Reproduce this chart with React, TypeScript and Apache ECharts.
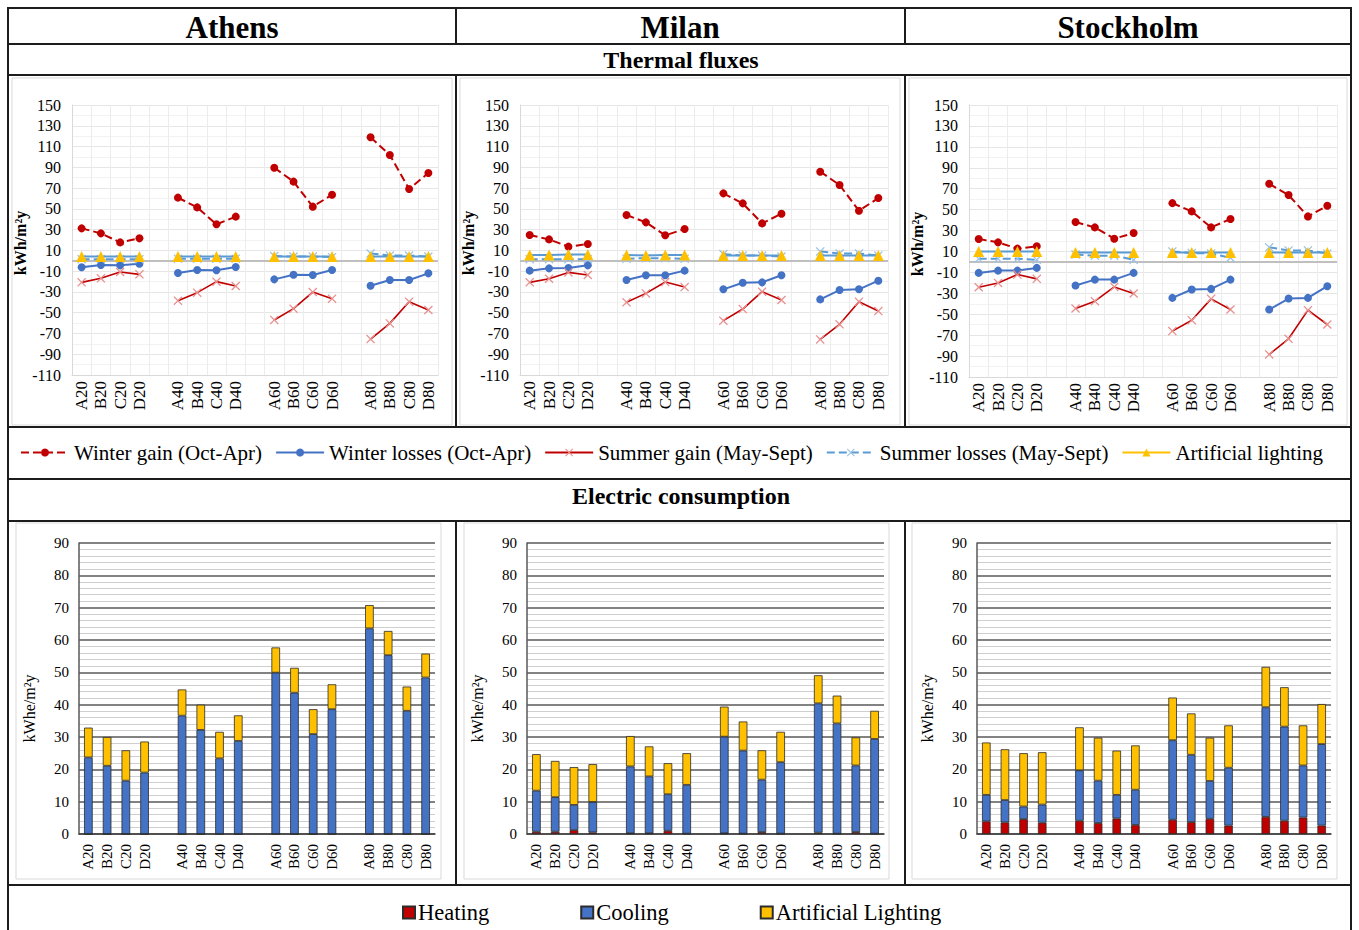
import React, { useEffect, useRef } from "react";
import * as echarts from "echarts";

const categories = ["A20","B20","C20","D20","","A40","B40","C40","D40","","A60","B60","C60","D60","","A80","B80","C80","D80"];
const cities = ["Athens", "Milan", "Stockholm"];
const fluxSeriesNames = ["Winter gain (Oct-Apr)", "Winter losses (Oct-Apr)", "Summer gain (May-Sept)", "Summer losses (May-Sept)", "Artificial lighting"];
const elecSeriesNames = ["Heating", "Cooling", "Artificial Lighting"];
const fluxTicks = { min: -110, max: 150, step: 20 };
const elecTicks = { min: 0, max: 90, step: 10 };

// Thermal fluxes (kWh/m2y), 16 designs each: A20..D20, A40..D40, A60..D60, A80..D80
const athensWinterGain = [31.2,26.4,17.7,21.6, 60.8,51.4,35.1,42.5, 89.6,76.2,52.1,63.6, 118.9,101.8,69.1,84.5];
const athensWinterLosses = [-6.3,-4.0,-4.4,-2.8, -11.8,-8.9,-9.2,-6.0, -17.9,-13.4,-13.7,-8.9, -24.0,-18.5,-18.5,-12.1];
const athensSummerGain = [-20.8,-16.9,-10.8,-13.1, -38.4,-30.7,-20.1,-24.3, -57.0,-46.1,-30.1,-36.5, -75.4,-60.3,-39.4,-47.4];
const athensSummerLosses = [1.5,1.5,1.5,1.5, 2,2,2,2, 4.5,4,4,3.5, 7,5,5,4];
const athensLighting = [4,4,4,4, 4,4,4,4, 4,4,4,4, 4,4,4,4];

const milanWinterGain = [24.8,20.6,13.6,16.1, 44.1,37.0,24.5,30.6, 64.9,55.3,36.0,45.3, 85.8,73.0,48.2,60.4];
const milanWinterLosses = [-9.5,-7.3,-7.0,-4.4, -18.5,-14.0,-14.0,-9.5, -27.5,-21.1,-20.8,-14.0, -37.2,-28.2,-27.5,-19.2];
const milanSummerGain = [-20.8,-17.3,-11.2,-13.7, -40.0,-31.4,-20.5,-25.3, -57.7,-46.5,-29.8,-37.8, -75.7,-61.2,-39.4,-48.4];
const milanSummerLosses = [1.5,1.5,1.5,1.5, 2,2.5,2.5,2, 6.5,5,5,4, 9,7,7,5];
const milanLighting = [5.5,5.5,6,6, 5.5,5,5.5,5.5, 5,5,5,5, 5,5,5,5];

const stockholmWinterGain = [21.9,18.7,12.7,14.9, 38.1,33.0,22.2,27.6, 56.2,48.3,33.0,41.0, 74.7,63.9,43.5,53.7];
const stockholmWinterLosses = [-10.5,-8.3,-8.3,-5.7, -22.6,-16.9,-16.9,-10.5, -34.4,-26.4,-25.8,-16.9, -45.5,-35.0,-34.4,-23.2];
const stockholmSummerGain = [-24.2,-20.1,-12.1,-16.2, -44.5,-37.5,-23.9,-30.2, -66.1,-55.7,-35.3,-45.5, -88.4,-73.5,-46.1,-59.8];
const stockholmSummerLosses = [3,3,3,2, 7,6,6,2, 10,8.5,8,4, 14,11,11,8];
const stockholmLighting = [10,10,10,10, 9,9,9,9, 9,9,9,9, 9,9,9,9];

// Electric consumption (kWhe/m2y)
const athensHeating = [0,0,0,0, 0,0,0,0, 0,0,0,0, 0,0,0,0];
const athensCooling = [23.7,21.1,16.5,19.0, 36.6,32.2,23.4,28.8, 49.9,43.7,30.9,38.6, 63.6,55.3,38.1,48.4];
const athensArtLighting = [9.2,8.9,9.4,9.6, 8.1,7.8,8.2,7.9, 7.8,7.7,7.7,7.7, 7.2,7.5,7.5,7.4];

const milanHeating = [0.7,0.7,1.2,0.5, 0.2,0.2,1.0,0.1, 0.2,0.1,0.6,0.1, 0.4,0.1,0.6,0.1];
const milanCooling = [12.7,10.7,7.8,9.4, 20.7,17.6,11.3,15.1, 29.9,25.7,16.2,22.1, 40.0,34.1,20.6,29.3];
const milanArtLighting = [11.3,11.2,11.7,11.7, 9.4,9.3,9.6,9.8, 9.3,9.0,9.1,9.4, 8.7,8.6,8.7,8.7];

const stockholmHeating = [3.9,3.6,4.6,3.5, 4.1,3.4,4.8,2.8, 4.4,3.7,4.7,2.6, 5.3,4.1,5.1,2.6];
const stockholmCooling = [8.2,6.9,3.9,5.6, 15.6,13.1,7.3,10.9, 24.6,20.8,11.7,17.9, 33.9,29.1,16.1,25.2];
const stockholmArtLighting = [16.2,15.7,16.5,16.2, 13.3,13.3,13.7,13.7, 13.2,12.8,13.4,13.1, 12.5,12.2,12.4,12.4];

const fluxData = [
  [athensWinterGain, athensWinterLosses, athensSummerGain, athensSummerLosses, athensLighting],
  [milanWinterGain, milanWinterLosses, milanSummerGain, milanSummerLosses, milanLighting],
  [stockholmWinterGain, stockholmWinterLosses, stockholmSummerGain, stockholmSummerLosses, stockholmLighting],
];
const elecData = [
  [athensHeating, athensCooling, athensArtLighting],
  [milanHeating, milanCooling, milanArtLighting],
  [stockholmHeating, stockholmCooling, stockholmArtLighting],
];

const FONT = '"Liberation Serif", "Times New Roman", serif';
const CROSS = "path://M0,1L1,0L5,4L9,0L10,1L6,5L10,9L9,10L5,6L1,10L0,9L4,5Z";

function withGaps(v: number[]): (number | string)[] {
  const out: (number | string)[] = [];
  v.forEach((x, i) => {
    if (i > 0 && i % 4 === 0) out.push("-");
    out.push(x);
  });
  return out;
}

const topGrids = [
  { left: 72, top: 105, width: 366, height: 270 },
  { left: 520, top: 105, width: 368, height: 270 },
  { left: 969, top: 105, width: 368, height: 272 },
];
const botGrids = [
  { left: 79, top: 543, width: 356, height: 291 },
  { left: 527, top: 543, width: 357, height: 291 },
  { left: 977, top: 543, width: 354, height: 291 },
];

const fluxStyles = [
  { color: "#C00000", type: "dashed", symbol: "circle", size: 8, sym: "#C00000" },
  { color: "#4472C4", type: "solid", symbol: "circle", size: 8, sym: "#4472C4" },
  { color: "#C00000", type: "solid", symbol: CROSS, size: 9, sym: "#E8908F" },
  { color: "#5B9BD5", type: "dashed", symbol: CROSS, size: 9, sym: "#9DC3E6" },
  { color: "#5B9BD5", type: "solid", symbol: "triangle", size: 11, sym: "#FFC000" },
];
const elecColors = ["#C00000", "#4472C4", "#FFC000"];

export default function App() {
  const ref = useRef<HTMLDivElement>(null);
  useEffect(() => {
    if (!ref.current) return;
    const chart = echarts.init(ref.current, null, { renderer: "svg" });

    const grid: any[] = [];
    const xAxis: any[] = [];
    const yAxis: any[] = [];
    const series: any[] = [];

    cities.forEach((city, c) => {
      const gi = grid.length;
      grid.push({ ...topGrids[c], containLabel: false });
      xAxis.push({
        type: "category", gridIndex: gi, data: categories, boundaryGap: true,
        axisLine: { show: true, onZero: false, lineStyle: { color: "#d9d9d9" } },
        axisTick: { show: false },
        axisLabel: { rotate: 90, interval: 0, fontSize: 17, color: "#000", fontFamily: FONT, margin: 6 },
        splitLine: { show: true, interval: 0, lineStyle: { color: "#ececec" } },
      });
      yAxis.push({
        type: "value", gridIndex: gi, min: fluxTicks.min, max: fluxTicks.max, interval: fluxTicks.step,
        name: "kWh/m²y", nameLocation: "middle", nameGap: 44, nameRotate: 90,
        nameTextStyle: { fontSize: 16, fontWeight: "bold", color: "#000", fontFamily: FONT, padding: [0, 6, 0, 0] },
        axisLine: { show: true, lineStyle: { color: "#d9d9d9" } },
        axisTick: { show: false },
        axisLabel: { fontSize: 16, color: "#000", fontFamily: FONT, margin: 11 },
        splitLine: { show: true, lineStyle: { color: "#e6e6e6" } },
        minorTick: { show: false, splitNumber: 2 },
        minorSplitLine: { show: true, lineStyle: { color: "#f2f2f2" } },
      });
      fluxData[c].forEach((vals, s) => {
        const st = fluxStyles[s];
        const ser: any = {
          type: "line", name: fluxSeriesNames[s], xAxisIndex: gi, yAxisIndex: gi,
          data: withGaps(vals), connectNulls: false,
          symbol: st.symbol, symbolSize: st.size,
          lineStyle: { color: st.color, type: st.type, width: s === 2 ? 1.6 : 2 },
          itemStyle: { color: st.sym },
          z: 3 + s,
        };
        if (s === 1) {
          ser.markLine = {
            silent: true, symbol: ["none", "none"], label: { show: false },
            lineStyle: { color: "#bfbfbf", type: "solid", width: 2 },
            data: [{ yAxis: 0 }], z: 1,
          };
        }
        series.push(ser);
      });
    });

    cities.forEach((city, c) => {
      const gi = grid.length;
      grid.push({ ...botGrids[c], containLabel: false });
      xAxis.push({
        type: "category", gridIndex: gi, data: categories, boundaryGap: true,
        axisLine: { show: true, lineStyle: { color: "#404040", width: 1.5 } },
        axisTick: { show: false },
        axisLabel: { rotate: 90, interval: 0, fontSize: 15, color: "#000", fontFamily: FONT, margin: 10 },
        splitLine: { show: false },
      });
      yAxis.push({
        type: "value", gridIndex: gi, min: elecTicks.min, max: elecTicks.max, interval: elecTicks.step,
        name: "kWhe/m²y", nameLocation: "middle", nameGap: 42, nameRotate: 90,
        nameTextStyle: { fontSize: 16, color: "#000", fontFamily: FONT, padding: [0, 40, 0, 0] },
        axisLine: { show: true, lineStyle: { color: "#595959", width: 1.5 } },
        axisTick: { show: false },
        axisLabel: { fontSize: 15, color: "#000", fontFamily: FONT, margin: 10 },
        splitLine: { show: true, lineStyle: { color: "#595959", width: 1.5 } },
        minorTick: { show: false, splitNumber: 5 },
        minorSplitLine: { show: true, lineStyle: { color: "#cfcfcf", width: 1 } },
      });
      elecData[c].forEach((vals, s) => {
        series.push({
          type: "bar", name: elecSeriesNames[s], xAxisIndex: gi, yAxisIndex: gi,
          stack: "elec" + c, data: withGaps(vals), barWidth: "46%",
          itemStyle: { color: elecColors[s], borderColor: "#2b2b2b", borderWidth: 0.8 },
        });
      });
    });

    const stroke = "#1c1c1c";
    const L = (x1: number, y1: number, x2: number, y2: number) => ({
      type: "line", silent: true, z: 100,
      shape: { x1, y1, x2, y2 }, style: { stroke, lineWidth: 2 },
    });
    const T = (text: string, x: number, y: number, size: number) => ({
      type: "text", x, y, silent: true, z: 100,
      style: {
        text, fill: "#000", font: `bold ${size}px ${FONT}`,
        textAlign: "center", align: "center", textVerticalAlign: "middle", verticalAlign: "middle",
      },
    });
    const box = (x: number, y: number, w: number, h: number) => ({
      type: "rect", silent: true, z: -1,
      shape: { x, y, width: w, height: h }, style: { fill: "none", stroke: "#d9d9d9", lineWidth: 1 },
    });

    const graphic: any[] = [
      box(12, 78, 440, 347), box(460, 78, 440, 347), box(909, 78, 438, 347),
      box(16, 523, 425, 356), box(464, 523, 425, 356), box(912, 523, 425, 356),
      L(8, 8, 1351, 8), L(8, 7, 8, 932), L(1351, 7, 1351, 932),
      L(8, 44, 1351, 44), L(8, 75, 1351, 75), L(8, 427, 1351, 427),
      L(8, 479, 1351, 479), L(8, 521, 1351, 521), L(8, 885, 1351, 885),
      L(456, 8, 456, 44), L(905, 8, 905, 44),
      L(456, 75, 456, 427), L(905, 75, 905, 427),
      L(456, 521, 456, 885), L(905, 521, 905, 885),
      T("Athens", 232, 27, 31), T("Milan", 680, 27, 31), T("Stockholm", 1128, 27, 31),
      T("Thermal fluxes", 681, 60, 24), T("Electric consumption", 681, 496, 24),
    ];

    chart.setOption({
      animation: false,
      backgroundColor: "#fff",
      grid, xAxis, yAxis, series, graphic,
      legend: [
        {
          left: 15, top: 437, width: 1340, itemWidth: 48, itemHeight: 10, itemGap: 13,
          textStyle: { fontSize: 21, color: "#000", fontFamily: FONT },
          data: fluxSeriesNames.map((n, i) => ({
            name: n,
            itemStyle: { color: i === 4 ? "#FFC000" : fluxStyles[i].sym },
            lineStyle: { color: i === 4 ? "#FFC000" : fluxStyles[i].color, type: fluxStyles[i].type as any },
          })),
        },
        {
          left: 397, top: 896, itemWidth: 12, itemHeight: 12, itemGap: 91, icon: "rect",
          textStyle: { fontSize: 22.5, color: "#000", fontFamily: FONT, padding: [0, 0, 0, -2] },
          data: elecSeriesNames,
        },
      ],
    });
    return () => chart.dispose();
  }, []);

  return (
    <div
      ref={ref}
      style={{ position: "absolute", left: 0, top: 0, width: 1359, height: 930, background: "#fff" }}
    />
  );
}
